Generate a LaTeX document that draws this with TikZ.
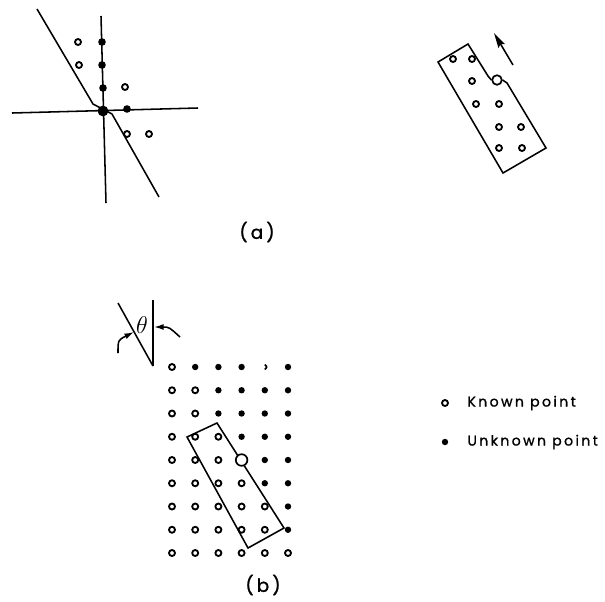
\documentclass[tikz,border=0pt]{standalone}
\usepackage{fontspec}
\usetikzlibrary{arrows.meta}
\newfontfamily\figfont[LetterSpace=17, FakeBold=1.2]{Poppins}

\begin{document}
\begin{tikzpicture}[x=0.025cm, y=-0.025cm, line width=1.1pt,
  known/.style={circle, draw, line width=1.3pt, inner sep=0pt, minimum size=0.15cm},
  unknown/.style={circle, fill, inner sep=0pt, minimum size=0.16cm},
  bigpt/.style={circle, draw, fill=white, line width=1.2pt, inner sep=0pt, minimum size=0.29cm},
  lbl/.style={font=\figfont\fontsize{13}{15}\selectfont},
  legtext/.style={anchor=west, font=\figfont\fontsize{10}{12}\selectfont}]
\useasboundingbox (0,0) rectangle (605,601);
\draw (101,16) -- (106,203);\draw (12,113) -- (198,108);
\draw (37,9) -- (93,104) -- (112,114) -- (159,197);
\foreach \p [count=\n] in {(78,42),(79,65),(125,87),(127,134),(149,134)} {\node[known] (ka\n) at \p {};}
\foreach \p [count=\n] in {(102,42),(102,65),(103,88),(127,109)} {\node[unknown, minimum size=0.19cm] (ua\n) at \p {};}
\node[unknown, minimum size=0.27cm] (ctr) at (103,111) {};
\node[bigpt, minimum size=0.24cm] (pivot) at (497,80) {};
\draw (pivot.west) -- (488,76) -- (468,44) -- (438,62) -- (503,173) -- (546,148) -- (507,83) -- (pivot.east);
\foreach \p [count=\n] in {(453,59),(472,59),(472,81),(476,104),(499,104),(499,127),(521,127),(499,148),(522,148)} {\node[known] (kr\n) at \p {};}
\coordinate (mvfrom) at (513,65);\coordinate (mvto) at (494,33);
\draw[-{Stealth[length=0.38cm, width=0.19cm, inset=0.06cm]}] (mvfrom) -- (mvto);
\node[lbl] (la) at (257,232) {(a)};
\coordinate (vtop) at (153,300);\coordinate (apex) at (153,366);\coordinate (dtop) at (118,303);
\draw (vtop) -- (apex);\draw (dtop) -- (apex);
\node[font=\fontsize{16}{18}\selectfont] (th) at (142,325) {$\theta$};
\coordinate (lfrom) at (118,353);\coordinate (lto) at (134,332);\coordinate (rfrom) at (180,337);\coordinate (rto) at (154,327);
\draw[-{Latex[length=0.24cm, width=0.15cm]}] (lfrom) .. controls (118,340) .. (lto);
\draw[-{Latex[length=0.24cm, width=0.15cm]}] (rfrom) .. controls (169,327) .. (rto);
\draw (187,437) -- (217,423) -- (284,528) -- (248,548) -- cycle;
\foreach \j/\k in {0/1,1/2,2/2,3/3,4/3,5/4,6/5,7/5,8/6}
  \foreach \i in {0,...,5} {
    \pgfmathsetmacro\gx{172+23.2*\i}\pgfmathsetmacro\gy{367+23.25*\j}
    \ifnum\i\j=40 \draw[line width=1.2pt] (\gx,\gy-2.5) .. controls (\gx+2.4,\gy) .. (\gx,\gy+2.5);
    \else\ifnum\i\j=34 \node[bigpt] (g\i\j) at (\gx,\gy) {};
    \else\ifnum\i<\k \node[known] (g\i\j) at (\gx,\gy) {};
    \else \node[unknown] (g\i\j) at (\gx,\gy) {};\fi\fi\fi
  }
\node[lbl] (lb) at (263,585) {(b)};
\node[known] (kleg) at (445,403) {};\node[legtext] (ktext) at (462,403) {Known point};
\node[unknown] (uleg) at (445,442) {};\node[legtext] (utext) at (462,442) {Unknown point};
\end{tikzpicture}
\end{document}
